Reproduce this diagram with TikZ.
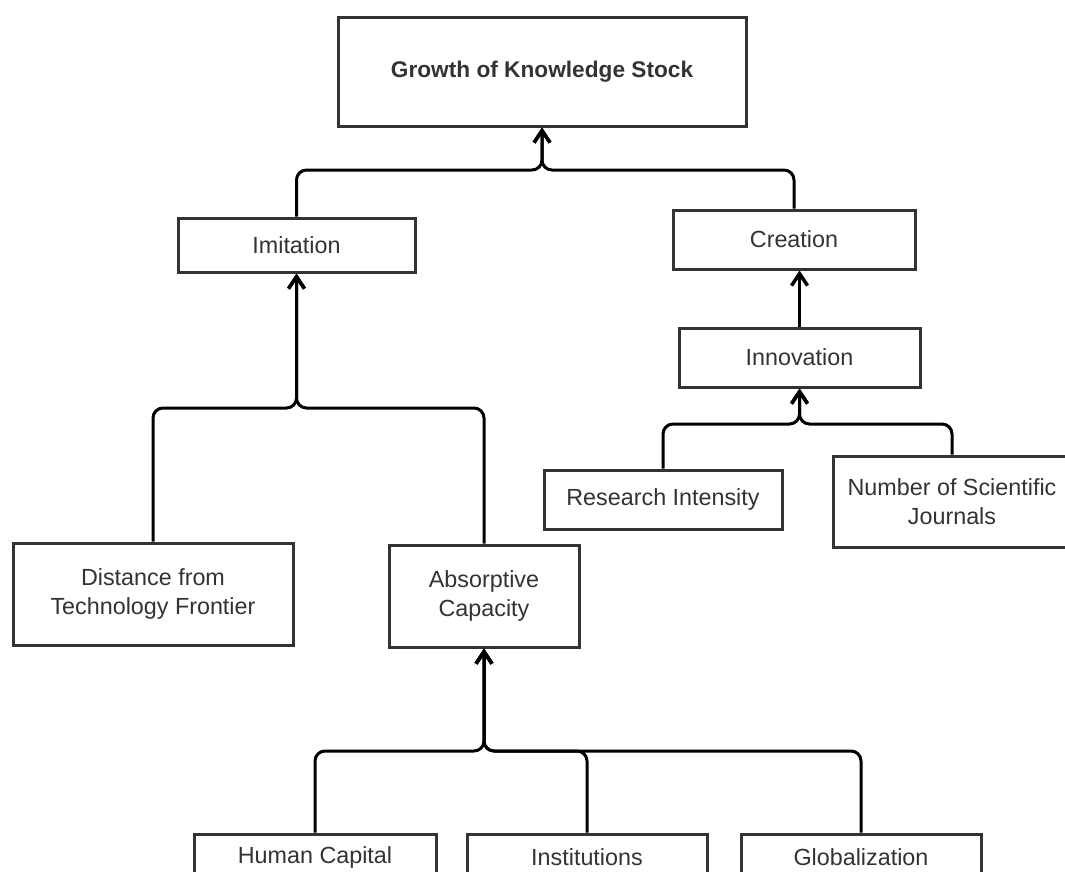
\documentclass[tikz,border=0pt]{standalone}
\usepackage{fontspec}
\setmainfont{Liberation Sans}
\usetikzlibrary{arrows.meta}
\definecolor{boxline}{HTML}{333333}
\definecolor{txt}{HTML}{333333}
\begin{document}
\begin{tikzpicture}[x=0.75pt,y=-0.75pt,
  box/.style={draw=boxline,line width=2.25pt,fill=white,align=center,text=txt,
    font=\fontsize{17.5}{21.75}\selectfont,inner sep=0pt},
  conn/.style={draw=black,line width=2.25pt,rounded corners=7.5pt,
    -{Straight Barb[length=9pt,width=12pt,line width=2.6pt]}}]
\useasboundingbox (0,0) rectangle (1065,872);
\fill[white] (0,0) rectangle (1065,872);
\clip (0,0) rectangle (1065,872);
% boxes
\node[box,minimum width=306pt,minimum height=81.75pt,font=\fontsize{17}{21}\selectfont\bfseries] (top) at (542,71.5) {Growth of Knowledge Stock};
\node[box,minimum width=177.75pt,minimum height=40.5pt] (imit) at (296.5,245) {Imitation};
\node[box,minimum width=181.5pt,minimum height=44.25pt] (creat) at (794,239.5) {Creation};
\node[box,minimum width=180.75pt,minimum height=44.25pt] (innov) at (799.5,357.5) {Innovation};
\node[box,minimum width=178.5pt,minimum height=44.25pt] (ri) at (663,499.5) {Research Intensity};
\node[box,minimum width=178.5pt,minimum height=68.25pt] (nsj) at (952,501.5) {Number of Scientific\\Journals};
\node[box,minimum width=210pt,minimum height=76.5pt] (dtf) at (153,594) {Distance from\\Technology Frontier};
\node[box,minimum width=142.5pt,minimum height=76.5pt] (ac) at (484,596) {Absorptive\\Capacity};
\node[box,minimum width=181.5pt,minimum height=34.5pt] (hc) at (315,857) {Human Capital};
\node[box,minimum width=180pt,minimum height=34.5pt] (inst) at (587,857) {Institutions};
\node[box,minimum width=180pt,minimum height=34.5pt] (glob) at (861,857) {Globalization};
% junctions
\coordinate (jtop) at (top.south |- 0,170);
\coordinate (jinn) at (innov.south |- 0,424);
\coordinate (jimit) at (imit.south |- 0,408);
\coordinate (jac) at (ac.south |- 0,751);
% connectors
\draw[conn] (imit.north) |- (jtop) -- (top.south);
\draw[conn] (creat.north) |- (jtop) -- (top.south);
\draw[conn] (innov.north) -- (innov.north |- creat.south);
\draw[conn] (ri.north) |- (jinn) -- (innov.south);
\draw[conn] (nsj.north) |- (jinn) -- (innov.south);
\draw[conn] (dtf.north) |- (jimit) -- (imit.south);
\draw[conn] (ac.north) |- (jimit) -- (imit.south);
\draw[conn] (hc.north) |- (jac) -- (ac.south);
\draw[conn] (inst.north) |- (jac) -- (ac.south);
\draw[conn] (glob.north) |- (jac) -- (ac.south);
\end{tikzpicture}
\end{document}
